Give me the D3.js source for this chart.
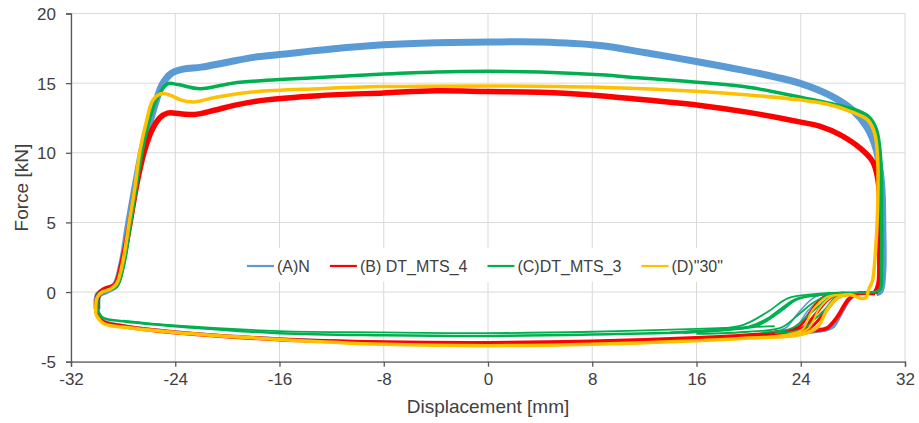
<!DOCTYPE html>
<html>
<head>
<meta charset="utf-8">
<script src="https://cdn.jsdelivr.net/npm/d3@7"></script>
<style>
  body { margin: 0; background: #fff; }
  text { font-family: "Liberation Sans", Arial, sans-serif; fill: #404040; }
</style>
</head>
<body>
<svg id="chart" width="919" height="423"></svg>
<script>
// axis ticks
var xTicks = [-32, -24, -16, -8, 0, 8, 16, 24, 32];
var yTicks = [-5, 0, 5, 10, 15, 20];

var seriesNames = ['(A)N', '(B) DT_MTS_4', '(C)DT_MTS_3', '(D)"30"'];
var seriesColors = ['#5B9BD5', '#FF0000', '#00B050', '#FFC000'];

// (A)N  -- loading branch (left rise, plateau, right drop) and unloading branch
var upperA = [[-30.0,-1.2],[-29.9,-0.2],[-29.3,0.1],[-28.6,0.5],[-28.1,2.0],[-27.6,4.8],[-27.0,8.0],[-26.5,10.4],
  [-26.0,12.0],[-25.5,13.6],[-25.0,14.9],[-24.3,15.7],[-23.4,16.0],[-22.0,16.15],[-20.0,16.5],[-18.0,16.85],
  [-16.0,17.05],[-12.0,17.45],[-8.0,17.75],[-4.0,17.9],[0.0,17.95],[4.0,17.95],[8.6,17.7],[12.0,17.2],
  [16.3,16.5],[20.0,15.85],[23.9,15.0],[26.5,14.0],[28.0,13.05],[29.1,11.8],[29.8,10.2],[30.2,7.8],
  [30.3,4.5],[30.3,1.5],[30.1,0.1],[29.8,-0.05]];
var lowerA = [[29.8,-0.05],[28.4,-0.1],[27.8,-0.5],[27.2,-1.4],[26.5,-2.5],[25.8,-2.75],[24.0,-2.95],[20.0,-3.15],
  [16.0,-3.35],[8.0,-3.55],[0.0,-3.65],[-8.0,-3.6],[-16.0,-3.35],[-24.0,-2.85],[-28.0,-2.4],[-29.6,-2.0],[-30.0,-1.2]];
var kneesA = [
  [[28.2,-0.1],[26.6,-0.3],[25.3,-1.4],[24.4,-2.55],[23.0,-2.85]],
  [[28.0,-0.1],[25.9,-0.3],[24.5,-1.4],[23.6,-2.55],[22.0,-2.9]],
  [[27.8,-0.1],[25.2,-0.3],[23.8,-1.5],[22.8,-2.6],[21.0,-2.95]]
];

// (B) DT_MTS_4
var upperB = [[-30.0,-1.3],[-29.9,-0.2],[-29.4,0.2],[-28.6,0.5],[-28.1,2.0],[-27.5,4.8],[-27.0,7.5],[-26.4,10.0],
  [-25.8,11.6],[-25.2,12.5],[-24.6,12.85],[-23.6,12.8],[-22.5,12.75],[-21.0,13.05],[-19.5,13.4],[-17.0,13.8],
  [-13.0,14.1],[-8.0,14.3],[-4.0,14.45],[0.0,14.4],[4.0,14.35],[8.6,14.1],[12.0,13.8],[16.3,13.4],[20.0,12.9],
  [24.0,12.2],[25.5,11.9],[27.0,11.3],[28.6,10.3],[29.5,9.4],[29.9,8.2],[30.05,6.5],[30.05,3.5],[30.0,0.6],[29.7,-0.1]];
var lowerB = [[29.7,-0.1],[28.2,-0.15],[27.6,-0.6],[26.8,-1.8],[26.0,-2.6],[25.0,-2.75],[24.0,-2.85],[20.0,-3.1],
  [16.0,-3.3],[8.0,-3.55],[0.0,-3.65],[-8.0,-3.6],[-16.0,-3.4],[-24.0,-2.9],[-28.0,-2.45],[-29.6,-2.1],[-30.0,-1.3]];
var kneesB = [
  [[28.2,-0.15],[27.0,-0.3],[25.8,-1.5],[24.8,-2.5],[23.5,-2.75]],
  [[28.0,-0.15],[26.4,-0.3],[25.2,-1.5],[24.2,-2.55],[23.0,-2.8]],
  [[27.8,-0.15],[25.8,-0.35],[24.6,-1.6],[23.8,-2.55],[22.0,-2.85]]
];

// (C)DT_MTS_3
var upperC = [[-30.0,-1.1],[-29.9,-0.2],[-29.3,0.1],[-28.5,0.4],[-28.0,1.8],[-27.5,4.5],[-27.0,7.5],[-26.5,10.3],
  [-26.0,12.3],[-25.4,13.9],[-24.6,14.95],[-23.8,14.9],[-22.1,14.6],[-19.6,15.0],[-17.0,15.2],[-13.0,15.4],
  [-8.0,15.65],[-4.0,15.8],[0.0,15.85],[4.0,15.8],[8.6,15.6],[12.0,15.35],[16.3,15.05],[20.0,14.7],[23.9,14.0],
  [26.0,13.6],[28.0,13.15],[29.2,12.6],[29.8,11.7],[30.1,10.0],[30.2,6.0],[30.2,2.0],[30.1,0.2],[29.8,0.0]];
var lowerC = [[29.8,0.0],[28.5,-0.05],[27.3,-0.05],[25.5,-0.2],[23.7,-0.5],[22.5,-1.2],[21.3,-2.0],[20.0,-2.5],
  [16.0,-2.85],[8.0,-3.05],[0.0,-3.15],[-8.0,-3.1],[-16.0,-2.95],[-24.0,-2.45],[-28.0,-2.1],[-29.6,-1.8],[-30.0,-1.1]];
var kneesC = [
  [[27.3,-0.05],[25.0,-0.15],[23.0,-0.45],[21.5,-1.4],[19.6,-2.35],[17.0,-2.7],[14.0,-2.9]],
  [[27.3,-0.05],[25.3,-0.2],[23.8,-0.5],[22.3,-1.5],[20.6,-2.45],[18.0,-2.75],[15.0,-2.95]],
  [[27.3,-0.05],[25.9,-0.3],[24.9,-0.8],[23.6,-1.8],[22.5,-2.55],[20.0,-2.85],[16.0,-3.0]],
  [[27.4,-0.05],[26.2,-0.35],[25.4,-1.0],[24.3,-1.9],[23.3,-2.6],[21.0,-2.9]],
  [[27.5,-0.05],[26.6,-0.4],[25.9,-1.2],[25.0,-2.0],[24.2,-2.65],[22.0,-2.95]],
  [[22.0,-2.45],[16.0,-2.65],[8.0,-2.85],[0.0,-2.95],[-8.0,-2.9],[-16.0,-2.8],[-24.0,-2.4],[-28.0,-2.05]]
];

// (D)"30"
var upperD = [[-30.1,-1.6],[-30.0,-0.4],[-29.6,0.0],[-29.0,0.2],[-28.5,0.6],[-28.0,2.3],[-27.5,5.2],[-27.1,7.5],
  [-26.7,10.2],[-26.2,12.3],[-25.7,13.8],[-25.0,14.25],[-24.3,14.1],[-23.6,13.8],[-22.6,13.65],[-20.8,14.0],
  [-18.3,14.35],[-12.9,14.6],[-8.0,14.75],[0.0,14.8],[8.6,14.7],[16.3,14.4],[20.0,14.15],[23.9,13.8],[26.0,13.5],
  [28.0,12.9],[29.2,12.3],[29.7,11.3],[29.9,9.5],[29.9,6.0],[29.7,2.5],[29.5,0.8],[29.2,0.2]];
var lowerD = [[29.2,0.2],[29.0,-0.4],[28.6,-0.45],[27.8,-0.2],[26.8,-0.45],[26.0,-1.3],[25.3,-2.5],[24.0,-3.05],
  [20.0,-3.3],[16.0,-3.5],[8.0,-3.75],[0.0,-3.85],[-8.0,-3.75],[-16.0,-3.4],[-24.0,-2.9],[-27.7,-2.55],
  [-29.5,-2.25],[-30.1,-1.6]];
var kneesD = [
  [[27.8,-0.2],[26.4,-0.3],[25.4,-1.2],[24.6,-2.6],[23.0,-3.1]],
  [[27.8,-0.2],[26.0,-0.35],[24.9,-1.3],[24.1,-2.7],[22.0,-3.15]]
];

var series = [
  {name: seriesNames[0], color: seriesColors[0], upper: upperA, lower: lowerA, knees: kneesA, wu: 7, wl: 3, wk: 1.6},
  {name: seriesNames[1], color: seriesColors[1], upper: upperB, lower: lowerB, knees: kneesB, wu: 5.5, wl: 4, wk: 3},
  {name: seriesNames[2], color: seriesColors[2], upper: upperC, lower: lowerC, knees: kneesC, wu: 3.5, wl: 2.5, wk: 1.8},
  {name: seriesNames[3], color: seriesColors[3], upper: upperD, lower: lowerD, knees: kneesD, wu: 3.5, wl: 3.5, wk: 2}
];

var svg = d3.select('#chart');
var mLeft = 71, mRight = 905, mTop = 13.5, mBottom = 361.7;

var scaleX = d3.scaleLinear().domain([-32, 32]).range([mLeft, mRight]);
var scaleY = d3.scaleLinear().domain([-5, 20]).range([mBottom, mTop]);

// gridlines
var grid = svg.append('g').attr('class', 'grid');
grid.selectAll('.vgrid').data(xTicks).enter().append('line')
  .attr('x1', function(d){ return scaleX(d); }).attr('x2', function(d){ return scaleX(d); })
  .attr('y1', mTop).attr('y2', mBottom)
  .attr('stroke', '#d9d9d9').attr('stroke-width', 1);
grid.selectAll('.hgrid').data(yTicks).enter().append('line')
  .attr('y1', function(d){ return scaleY(d); }).attr('y2', function(d){ return scaleY(d); })
  .attr('x1', mLeft).attr('x2', mRight)
  .attr('stroke', '#d9d9d9').attr('stroke-width', 1);

// axes
var fmt = function(d){ return String(d); };
var axisX = d3.axisBottom(scaleX).tickValues(xTicks).tickFormat(fmt).tickSize(5).tickPadding(6);
var axisY = d3.axisLeft(scaleY).tickValues(yTicks).tickFormat(fmt).tickSize(5).tickPadding(10);

var gx = svg.append('g').attr('transform', 'translate(0,' + mBottom + ')').call(axisX);
var gy = svg.append('g').attr('transform', 'translate(' + mLeft + ',0)').call(axisY);
[gx, gy].forEach(function(g){
  g.select('.domain').attr('stroke', '#595959').attr('stroke-width', 1.3);
  g.selectAll('.tick line').attr('stroke', '#595959').attr('stroke-width', 1.3);
  g.selectAll('.tick text').style('font-size', '17px').attr('fill', '#404040')
    .style('font-family', '"Liberation Sans", Arial, sans-serif');
});
gy.selectAll('.tick text').attr('dy', '0.36em');

// axis titles
svg.append('text').attr('x', scaleX(0)).attr('y', 413).attr('text-anchor', 'middle')
  .style('font-size', '19px').text('Displacement [mm]');
svg.append('text').attr('transform', 'translate(28,' + ((mTop + mBottom) / 2) + ') rotate(-90)')
  .attr('text-anchor', 'middle').style('font-size', '19px').text('Force [kN]');

// series
var line = d3.line()
  .x(function(d){ return scaleX(d[0]); })
  .y(function(d){ return scaleY(d[1]); })
  .curve(d3.curveCatmullRom.alpha(0.5));

var plot = svg.append('g').attr('class', 'plot');
series.forEach(function(s){
  var g = plot.append('g');
  s.knees.forEach(function(k){
    g.append('path').attr('d', line(k)).attr('fill', 'none')
      .attr('stroke', s.color).attr('stroke-width', s.wk).attr('stroke-linejoin', 'round');
  });
  g.append('path').attr('d', line(s.lower)).attr('fill', 'none')
    .attr('stroke', s.color).attr('stroke-width', s.wl).attr('stroke-linejoin', 'round');
  g.append('path').attr('d', line(s.upper)).attr('fill', 'none')
    .attr('stroke', s.color).attr('stroke-width', s.wu).attr('stroke-linejoin', 'round');
});

// legend
var legend = svg.append('g').attr('class', 'legend');
var bg = legend.append('rect').attr('fill', '#fff');
var lx = 247, ly = 266;
series.forEach(function(s){
  legend.append('line').attr('x1', lx).attr('x2', lx + 27).attr('y1', ly).attr('y2', ly)
    .attr('stroke', s.color).attr('stroke-width', 2.2);
  var t = legend.append('text').attr('x', lx + 30).attr('y', ly).attr('dy', '0.36em')
    .style('font-size', '16px').text(s.name);
  lx += 30 + t.node().getComputedTextLength() + 20;
});
bg.attr('x', 240).attr('y', 248).attr('width', lx - 240).attr('height', 34);
</script>
</body>
</html>
